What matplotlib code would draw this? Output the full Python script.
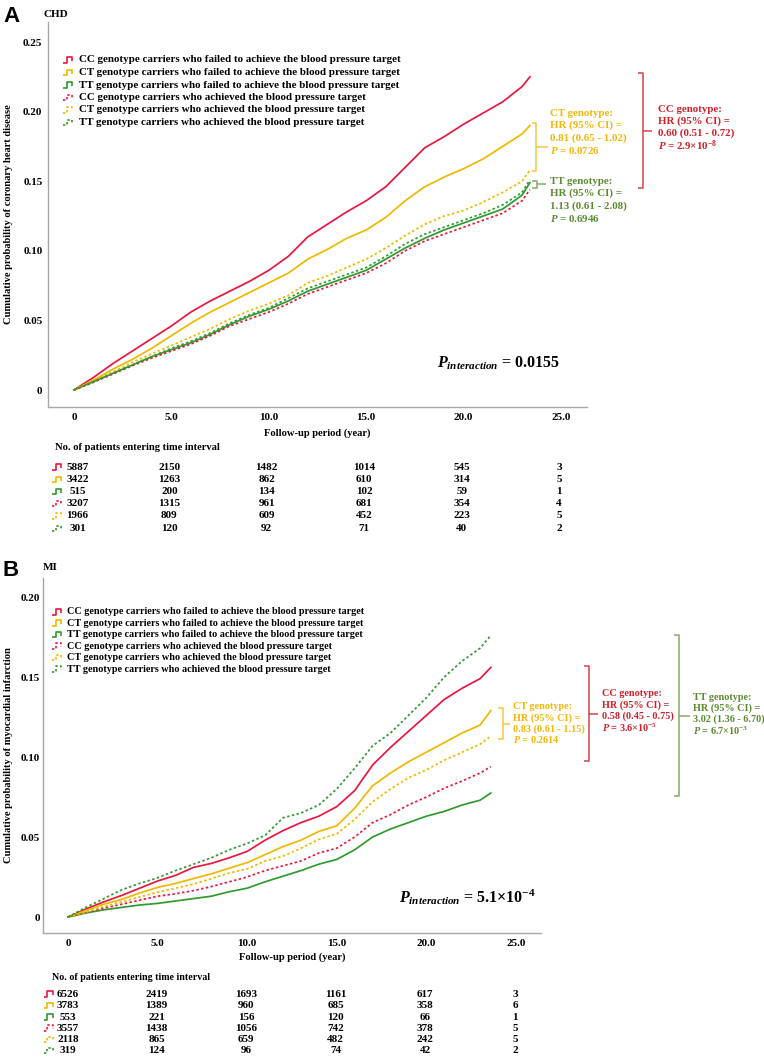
import matplotlib
matplotlib.use('Agg')
import matplotlib.pyplot as plt
from matplotlib.lines import Line2D
import matplotlib.transforms as mtransforms

plt.rcParams['font.family'] = 'Liberation Serif'
plt.rcParams['font.weight'] = 'bold'
plt.rcParams['mathtext.fontset'] = 'custom'
plt.rcParams['mathtext.rm'] = 'Liberation Serif:bold'
plt.rcParams['mathtext.it'] = 'Liberation Serif:italic:bold'
plt.rcParams['mathtext.bf'] = 'Liberation Serif:bold'

# ---------------- data ----------------
group_labels = [
    "CC genotype carriers who failed to achieve the blood pressure target",
    "CT genotype carriers who failed to achieve the blood pressure target",
    "TT genotype carriers who failed to achieve the blood pressure target",
    "CC genotype carriers who achieved the blood pressure target",
    "CT genotype carriers who achieved the blood pressure target",
    "TT genotype carriers who achieved the blood pressure target",
]
x_ticks = [0, 5, 10, 15, 20, 25]
x_tick_labels = ["0", "5.0", "10.0", "15.0", "20.0", "25.0"]

# Panel A: CHD
years_chd = [0, 1, 2, 3, 4, 5, 6, 7, 8, 9, 10, 11, 12, 13, 14, 15, 16, 17, 18, 19, 20, 21, 22, 23, 23.4]
chd_cc_failed = [0, 0.009, 0.019, 0.028, 0.037, 0.046, 0.056, 0.064, 0.071, 0.078, 0.086, 0.096, 0.110, 0.119,
                 0.128, 0.136, 0.146, 0.160, 0.174, 0.182, 0.191, 0.199, 0.207, 0.218, 0.225]
chd_ct_failed = [0, 0.007, 0.015, 0.022, 0.030, 0.039, 0.048, 0.056, 0.063, 0.070, 0.077, 0.084, 0.094, 0.101,
                 0.109, 0.115, 0.124, 0.136, 0.146, 0.153, 0.159, 0.166, 0.175, 0.184, 0.190]
chd_tt_failed = [0, 0.006, 0.012, 0.018, 0.024, 0.029, 0.034, 0.040, 0.047, 0.053, 0.058, 0.064, 0.071, 0.076,
                 0.081, 0.086, 0.094, 0.102, 0.109, 0.115, 0.120, 0.125, 0.130, 0.140, 0.149]
chd_cc_achieved = [0, 0.0055, 0.0115, 0.0175, 0.023, 0.028, 0.033, 0.039, 0.046, 0.051, 0.056, 0.062, 0.069, 0.074,
                   0.079, 0.084, 0.091, 0.100, 0.107, 0.112, 0.117, 0.122, 0.127, 0.136, 0.144]
chd_ct_achieved = [0, 0.007, 0.013, 0.020, 0.026, 0.032, 0.038, 0.044, 0.051, 0.057, 0.062, 0.068, 0.077, 0.082,
                   0.088, 0.094, 0.102, 0.111, 0.119, 0.125, 0.129, 0.135, 0.142, 0.150, 0.158]
chd_tt_achieved = [0, 0.006, 0.012, 0.018, 0.024, 0.030, 0.035, 0.041, 0.048, 0.054, 0.059, 0.066, 0.073, 0.078,
                   0.083, 0.088, 0.096, 0.105, 0.112, 0.117, 0.122, 0.127, 0.133, 0.142, 0.151]
chd_yticks = [0, 0.05, 0.10, 0.15, 0.20, 0.25]
chd_ytick_labels = ["0", "0.05", "0.10", "0.15", "0.20", "0.25"]
chd_risk = [
    [5887, 2150, 1482, 1014, 545, 3],
    [3422, 1263, 862, 610, 314, 5],
    [515, 200, 134, 102, 59, 1],
    [3207, 1315, 961, 681, 354, 4],
    [1966, 809, 609, 452, 223, 5],
    [301, 120, 92, 71, 40, 2],
]

# Panel B: MI
years_mi = [0, 1, 2, 3, 4, 5, 6, 7, 8, 9, 10, 11, 12, 13, 14, 15, 16, 17, 18, 19, 20, 21, 22, 23, 23.6]
mi_cc_failed = [0, 0.005, 0.0095, 0.0135, 0.018, 0.0225, 0.026, 0.031, 0.0335, 0.037, 0.041, 0.048, 0.054, 0.059,
                0.063, 0.069, 0.079, 0.095, 0.106, 0.116, 0.126, 0.136, 0.143, 0.149, 0.156]
mi_ct_failed = [0, 0.004, 0.008, 0.011, 0.015, 0.0185, 0.021, 0.024, 0.027, 0.0305, 0.034, 0.039, 0.044, 0.048,
                0.0535, 0.057, 0.068, 0.082, 0.090, 0.097, 0.103, 0.109, 0.115, 0.120, 0.129]
mi_tt_failed = [0, 0.0025, 0.0045, 0.006, 0.0075, 0.0085, 0.010, 0.0115, 0.013, 0.0158, 0.018, 0.022, 0.0255, 0.029,
                0.033, 0.036, 0.042, 0.050, 0.055, 0.059, 0.063, 0.066, 0.070, 0.073, 0.0775]
mi_cc_achieved = [0, 0.0028, 0.0055, 0.008, 0.0105, 0.013, 0.0145, 0.0165, 0.019, 0.022, 0.025, 0.029, 0.032, 0.035,
                  0.040, 0.043, 0.050, 0.059, 0.064, 0.070, 0.075, 0.0805, 0.085, 0.090, 0.094]
mi_ct_achieved = [0, 0.003, 0.0065, 0.0095, 0.0125, 0.0155, 0.018, 0.0205, 0.024, 0.0275, 0.030, 0.035, 0.038, 0.043,
                  0.0485, 0.052, 0.061, 0.072, 0.080, 0.087, 0.092, 0.098, 0.103, 0.108, 0.113]
mi_tt_achieved = [0, 0.006, 0.0115, 0.017, 0.021, 0.0245, 0.029, 0.033, 0.037, 0.042, 0.046, 0.051, 0.062, 0.065,
                  0.070, 0.080, 0.093, 0.107, 0.115, 0.126, 0.137, 0.150, 0.160, 0.168, 0.176]
mi_yticks = [0, 0.05, 0.10, 0.15, 0.20]
mi_ytick_labels = ["0", "0.05", "0.10", "0.15", "0.20"]
mi_risk = [
    [6526, 2419, 1693, 1161, 617, 3],
    [3783, 1389, 960, 685, 358, 6],
    [553, 221, 156, 120, 66, 1],
    [3557, 1438, 1056, 742, 378, 5],
    [2118, 865, 659, 482, 242, 5],
    [319, 124, 96, 74, 42, 2],
]

# ---------------- styles ----------------
RED, YEL, GRN = '#e8173f', '#f0b800', '#2f9a2f'
RED_T, YEL_T, GRN_T = '#d0202a', '#f2b705', '#5a8a2e'
RED_B, YEL_B, GRN_B = '#d8404a', '#f5c542', '#86aa66'
line_colors = [RED, YEL, GRN, RED, YEL, GRN]
dotted = [False, False, False, True, True, True]
DOT = (0, (1.4, 1.4))

W, H = 764, 1057
fig = plt.figure(figsize=(W / 100, H / 100), dpi=100)


def fx(x):
    return x / W


def fy(y):
    return 1 - y / H


def ftext(x, y, s, **kw):
    kw.setdefault('va', 'center')
    kw.setdefault('ha', 'left')
    kw.setdefault('fontweight', 'bold')
    return fig.text(fx(x), fy(y), s, **kw)


def fline(xs, ys, color, lw=1.0, ls='-'):
    fig.add_artist(Line2D([fx(v) for v in xs], [fy(v) for v in ys], color=color, lw=lw, ls=ls,
                          transform=fig.transFigure, solid_capstyle='butt'))


def icon(x0, y, color, is_dot):
    xs = [x0, x0 + 3.5, x0 + 3.5, x0 + 9, x0 + 9]
    ys = [y + 2.5, y + 2.5, y - 3, y - 3, y + 1]
    fline(xs, ys, color, lw=1.2, ls=DOT if is_dot else '-')


def bracket(xv, top, bot, xl, mid, xr, color):
    fline([xl, xv, xv, xl], [top, top, bot, bot], color, lw=1.1)
    fline([xv, xr], [mid, mid], color, lw=1.1)


def make_panel(rect_px, xlim, ylim, years, series, yticks, ytl, ylabel):
    l, t, r, b = rect_px
    ax = fig.add_axes([fx(l), fy(b), (r - l) / W, (b - t) / H])
    for vals, c, d in zip(series, line_colors, dotted):
        ax.plot(years, vals, color=c, lw=1.25, ls=DOT if d else '-')
    ax.set_xlim(*xlim)
    ax.set_ylim(*ylim)
    for s in ['top', 'right']:
        ax.spines[s].set_visible(False)
    for s in ['left', 'bottom']:
        ax.spines[s].set_color('#a8a8a8')
        ax.spines[s].set_linewidth(1.0)
    ax.set_xticks(x_ticks)
    ax.set_xticklabels(x_tick_labels, fontsize=8, fontweight='bold')
    ax.set_yticks(yticks)
    ax.set_yticklabels(ytl, fontsize=8, fontweight='bold')
    ax.tick_params(length=0, pad=4)
    ax.set_ylabel(ylabel, fontsize=7.6, fontweight='bold', labelpad=0)
    return ax


def risk_table(ax, rows, ys, icon_x, dx0, dx, fs):
    trans = mtransforms.blended_transform_factory(ax.transData, fig.transFigure)
    for i, (row, y) in enumerate(zip(rows, ys)):
        icon(icon_x, y, line_colors[i], dotted[i])
        for j, (xt, n) in enumerate(zip(x_ticks, row)):
            off = dx0 if j == 0 else dx
            tr = mtransforms.offset_copy(trans, fig=fig, x=off, y=0, units='dots')
            ax.text(xt, fy(y), str(n), transform=tr, ha='center', va='center', fontsize=fs,
                    fontweight='bold')


# ================= Panel A =================
axA = make_panel((48, 22, 587, 407), (-1.33, 26.33), (-0.0122, 0.2644), years_chd,
                 [chd_cc_failed, chd_ct_failed, chd_tt_failed, chd_cc_achieved, chd_ct_achieved, chd_tt_achieved],
                 chd_yticks, chd_ytick_labels, 'Cumulative probability of coronary heart disease')
axA.yaxis.set_label_coords(fx(13.5), fy(214.5), transform=fig.transFigure)
ftext(3, 17, 'A', fontsize=16, family='Liberation Sans')
ftext(43, 14.5, 'CHD', fontsize=8)
legA_y = [60, 72.5, 85, 97.5, 110, 122.5]
for i, (lab, y) in enumerate(zip(group_labels, legA_y)):
    icon(63, y, line_colors[i], dotted[i])
    ftext(79, y, lab, fontsize=7.9)

ftext(317.5, 433, 'Follow-up period (year)', fontsize=7.6, ha='center')
ftext(55, 448, 'No. of patients entering time interval', fontsize=7.6)
risk_table(axA, chd_risk, [467, 479.5, 491.5, 504, 516, 528.5], 52, 3.5, -2, 8)

# brackets / annotations A
bracket(535.7, 123, 171, 531.5, 147, 548, YEL_B)
for y, s in zip([113, 125.5, 138, 150.5], ['CT genotype:', 'HR (95% CI) =', '0.81 (0.65 - 1.02)', '$P$ = 0.0726']):
    ftext(550, y, s, fontsize=7.8, color=YEL_T)
bracket(536.7, 180.7, 187.7, 532, 184.2, 546, GRN_B)
for y, s in zip([181, 193.5, 206, 218.5], ['TT genotype:', 'HR (95% CI) =', '1.13 (0.61 - 2.08)', '$P$ = 0.6946']):
    ftext(550, y, s, fontsize=7.8, color=GRN_T)
bracket(643, 72.7, 187.7, 638, 130.7, 651.7, RED_B)
for y, s in zip([109, 121.3, 133.5, 145.8], ['CC genotype:', 'HR (95% CI) =', '0.60 (0.51 - 0.72)',
                                            '$P$ = 2.9×10$^{-8}$']):
    ftext(658, y, s, fontsize=7.8, color=RED_T)
ftext(437, 363, r'$P_{interaction}$ = 0.0155', fontsize=11.5)

# ================= Panel B =================
axB = make_panel((43, 578, 541, 933), (-1.395, 26.4), (-0.010, 0.2119), years_mi,
                 [mi_cc_failed, mi_ct_failed, mi_tt_failed, mi_cc_achieved, mi_ct_achieved, mi_tt_achieved],
                 mi_yticks, mi_ytick_labels, 'Cumulative probability of myocardial infarction')
axB.yaxis.set_label_coords(fx(13.5), fy(755.5), transform=fig.transFigure)
axB.tick_params(axis='y', pad=2)
ftext(3, 571, 'B', fontsize=16, family='Liberation Sans')
ftext(43, 568, 'MI', fontsize=8)
legB_y = [612, 623.4, 634.8, 646.2, 657.6, 669]
for i, (lab, y) in enumerate(zip(group_labels, legB_y)):
    icon(52, y, line_colors[i], dotted[i])
    ftext(67, y, lab, fontsize=7.3)

ftext(292, 957, 'Follow-up period (year)', fontsize=7.6, ha='center')
ftext(52, 977, 'No. of patients entering time interval', fontsize=7.2)
risk_table(axB, mi_risk, [994.3, 1005.7, 1017, 1028.3, 1039.5, 1050.8], 43.5, 0, -1, 8)

bracket(503, 708, 739, 498, 724, 510, YEL_B)
for y, s in zip([706.7, 717.7, 728.7, 739.7], ['CT genotype:', 'HR (95% CI) =', '0.83 (0.61 - 1.15)', '$P$ = 0.2614']):
    ftext(513, y, s, fontsize=7.3, color=YEL_T)
bracket(589.3, 666, 761, 584, 714, 598, RED_B)
for y, s in zip([694, 705.3, 716.6, 728], ['CC genotype:', 'HR (95% CI) =', '0.58 (0.45 - 0.75)',
                                          '$P$ = 3.6×10$^{-5}$']):
    ftext(601.7, y, s, fontsize=7.3, color=RED_T)
bracket(679, 635, 795.7, 674, 715.7, 690, GRN_B)
for y, s in zip([697, 708.3, 719.6, 731], ['TT genotype:', 'HR (95% CI) =', '3.02 (1.36 - 6.70)',
                                          '$P$ = 6.7×10$^{-3}$']):
    ftext(693, y, s, fontsize=7.3, color=GRN_T)
ftext(399, 897, r'$P_{interaction}$ = 5.1×10$^{-4}$', fontsize=11.5)

fig.savefig('out.png', dpi=100)
